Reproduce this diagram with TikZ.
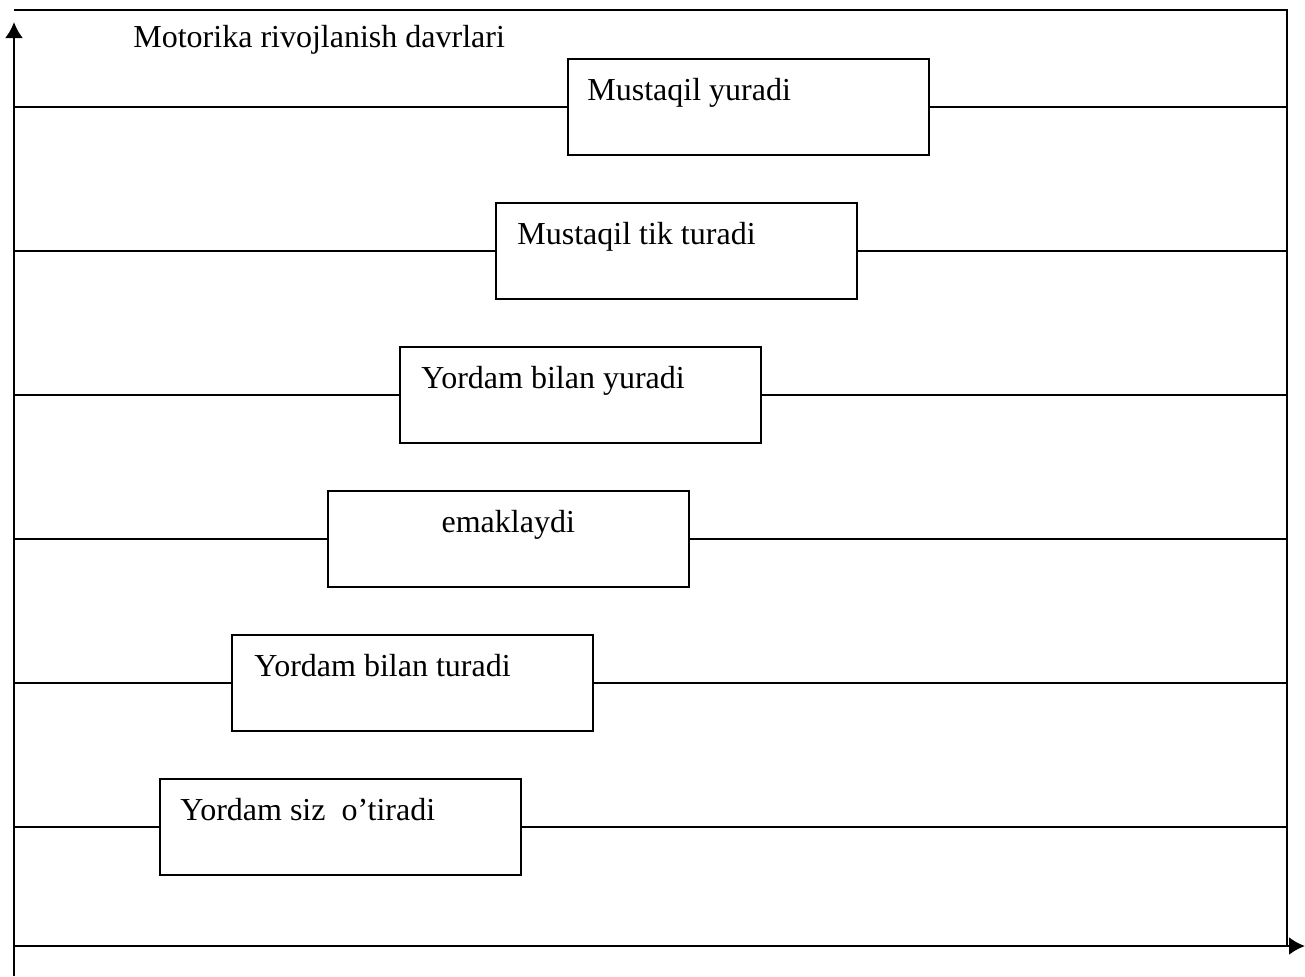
\documentclass[tikz,border=0pt]{standalone}
\usepackage{fontspec}
\setmainfont{Liberation Serif}
\usepackage{tikz}
\usetikzlibrary{positioning, calc, arrows.meta}

\begin{document}
\begin{tikzpicture}[x=0.5pt, y=-0.5pt]
      \tikzset{ stg/.style ={draw=black, line width=0.75pt, minimum width=180.5pt, minimum height=48pt, inner sep=0pt} }
      \tikzset{ lbl/.style ={inner sep=0pt, font=\fontsize{16pt}{19pt}\selectfont} }
      \tikzset{ lvl/.style ={draw=black, line width=0.75pt} }
      \tikzset{ axs/.style ={draw=black, line width=1.25pt, -{Latex[length=8pt, width=9pt]}} }

      \useasboundingbox (0,0) rectangle (1305,976);

      \coordinate (o)  at (14,946);
      \coordinate (tl) at (14,10);
      \coordinate (tr) at (1287,10);
      \coordinate (br) at (1287,946);

      \node[stg, anchor=north west] (b1) at (567,58)  {};
      \node[stg, anchor=north west] (b2) at (495,202) {};
      \node[stg, anchor=north west] (b3) at (399,346) {};
      \node[stg, anchor=north west] (b4) at (327,490) {};
      \node[stg, anchor=north west] (b5) at (231,634) {};
      \node[stg, anchor=north west] (b6) at (159,778) {};

      \node[lbl, anchor=base west] (ttl) at (133,47) {Motorika rivojlanish davrlari};
      \node[lbl, anchor=base west] (l1) at ([shift={(20,42)}]b1.north west) {Mustaqil yuradi};
      \node[lbl, anchor=base west] (l2) at ([shift={(22,42)}]b2.north west) {Mustaqil tik turadi};
      \node[lbl, anchor=base west] (l3) at ([shift={(22,42)}]b3.north west) {Yordam bilan yuradi};
      \node[lbl, anchor=base]      (l4) at ([shift={(0,42)}]b4.north)       {emaklaydi};
      \node[lbl, anchor=base west] (l5) at ([shift={(23,42)}]b5.north west) {Yordam bilan turadi};
      \node[lbl, anchor=base west] (l6) at ([shift={(21,42)}]b6.north west) {Yordam siz\ \ o’tiradi};

      % frame
      \draw[lvl] (tl) -- (tr) -- (br);

      % levels
      \draw[lvl] (b1.west -| o) -- (b1.west);  \draw[lvl] (b1.east) -- (b1.east -| br);
      \draw[lvl] (b2.west -| o) -- (b2.west);  \draw[lvl] (b2.east) -- (b2.east -| br);
      \draw[lvl] (b3.west -| o) -- (b3.west);  \draw[lvl] (b3.east) -- (b3.east -| br);
      \draw[lvl] (b4.west -| o) -- (b4.west);  \draw[lvl] (b4.east) -- (b4.east -| br);
      \draw[lvl] (b5.west -| o) -- (b5.west);  \draw[lvl] (b5.east) -- (b5.east -| br);
      \draw[lvl] (b6.west -| o) -- (b6.west);  \draw[lvl] (b6.east) -- (b6.east -| br);

      % axes
      \draw[axs] (14,976) -- (14,22);
      \draw[axs] (o) -- (1305,946);
\end{tikzpicture}
\end{document}
